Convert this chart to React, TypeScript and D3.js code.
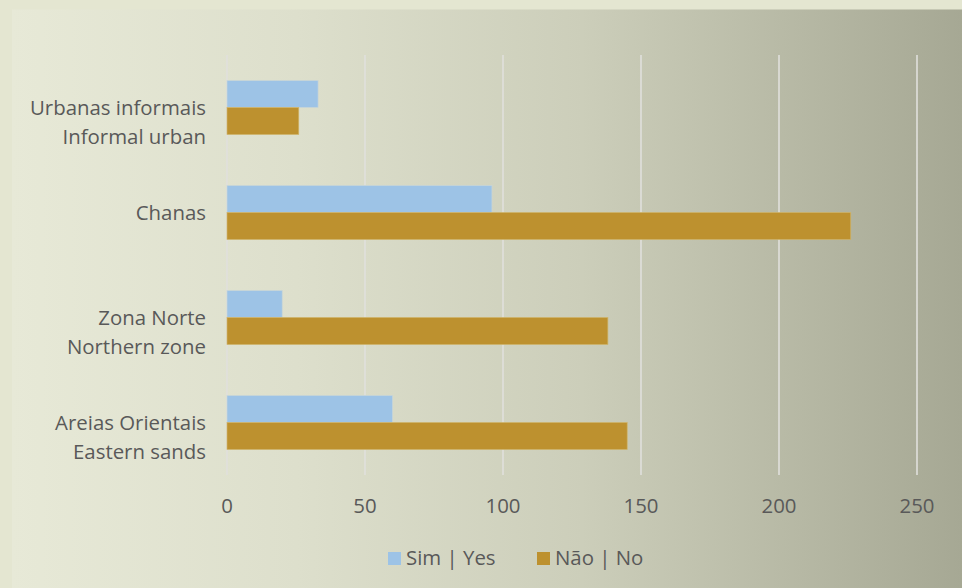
import React from "react";
import * as d3 from "d3";

const categories = [
  ["Urbanas informais", "Informal urban"],
  ["Chanas"],
  ["Zona Norte", "Northern zone"],
  ["Areias Orientais", "Eastern sands"],
];
const simValues = [33, 96, 20, 60];
const naoValues = [26, 226, 138, 145];
const seriesNames = ["Sim | Yes", "Não | No"];
const xTicks = [0, 50, 100, 150, 200, 250];

const W = 962;
const H = 588;
const FONT = "'Open Sans', sans-serif";
const FS = 20.4;
const TEXT = "#595959";
const BLUE = "#9dc3e6";
const GOLD = "#bd912f";

export default function App() {
  const x = d3.scaleLinear().domain([0, 250]).range([227, 917]);
  const keys = categories.map((c) => c.join(" / "));
  const y = d3
    .scaleBand<string>()
    .domain(keys)
    .range([55, 475])
    .paddingInner(0.486)
    .paddingOuter(0.243);
  const bw = y.bandwidth() / 2;

  return (
    <svg
      width={W}
      height={H}
      style={{ position: "absolute", left: 0, top: 0, display: "block" }}
    >
      <defs>
        <linearGradient id="bg" x1="0" x2="1" y1="0" y2="0">
          <stop offset="0" stopColor="#e7e9d7" />
          <stop offset="0.3" stopColor="#dddfcc" />
          <stop offset="0.6" stopColor="#ccceba" />
          <stop offset="1" stopColor="#a6a894" />
        </linearGradient>
      </defs>
      <rect x={0} y={0} width={W} height={H} fill="#e4e6d1" />
      <rect x={12} y={9.5} width={W - 12} height={H - 9.5} fill="url(#bg)" />

      {xTicks.map((t) => (
        <line
          key={"g" + t}
          x1={x(t)}
          x2={x(t)}
          y1={55}
          y2={475}
          stroke="#e0e0dc"
          strokeWidth={1.6}
        />
      ))}

      {keys.map((k, i) => {
        const y0 = y(k) as number;
        return (
          <g key={k}>
            <rect
              x={x(0)}
              y={y0}
              width={x(simValues[i]) - x(0)}
              height={bw}
              fill={BLUE}
              stroke="#c9d6d8"
              strokeWidth={0.7}
            />
            <rect
              x={x(0)}
              y={y0 + bw}
              width={x(naoValues[i]) - x(0)}
              height={bw}
              fill={GOLD}
              stroke="#cfb46a"
              strokeWidth={0.7}
            />
          </g>
        );
      })}

      {keys.map((k, i) => {
        const cy = (y(k) as number) + y.bandwidth() / 2;
        return (
          <text
            key={"l" + k}
            textAnchor="end"
            fontFamily={FONT}
            fontSize={FS}
            fill={TEXT}
          >
            {categories[i].map((line, j) => (
              <tspan key={j} x={206} y={cy + 7.5 + j * 28.5}>
                {line}
              </tspan>
            ))}
          </text>
        );
      })}

      {xTicks.map((t) => (
        <text
          key={"t" + t}
          x={x(t)}
          y={513}
          textAnchor="middle"
          fontFamily={FONT}
          fontSize={FS}
          fill={TEXT}
        >
          {t}
        </text>
      ))}

      {seriesNames.map((s, i) => {
        const lx = i === 0 ? 388 : 537;
        return (
          <g key={s}>
            <rect x={lx} y={552} width={13} height={13} fill={i === 0 ? BLUE : GOLD} />
            <text
              x={lx + 18}
              y={565}
              fontFamily={FONT}
              fontSize={FS}
              fill={TEXT}
            >
              {s}
            </text>
          </g>
        );
      })}
    </svg>
  );
}
